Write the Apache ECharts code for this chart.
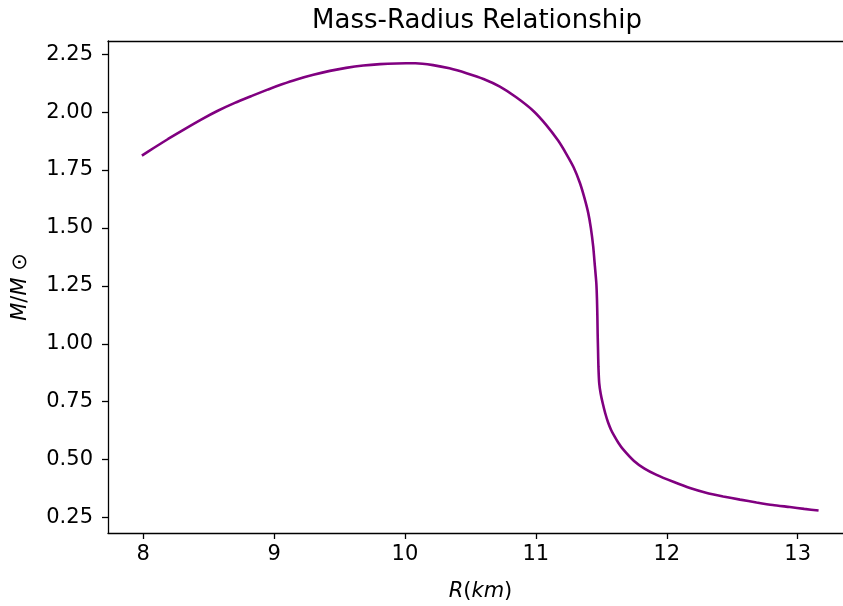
<!DOCTYPE html>
<html>
<head>
<meta charset="utf-8">
<script src="https://cdn.jsdelivr.net/npm/echarts@6/dist/echarts.min.js"></script>
<style>
html,body{margin:0;padding:0;background:#fff;overflow:hidden;width:843px;height:606px;}
#chart{width:870px;height:606px;}
</style>
</head>
<body>
<div id="chart"></div>
<script>
// Radius (km) and mass (solar masses)
const radiusKm = [7.99, 8.08, 8.19, 8.32, 8.446, 8.57, 8.70, 8.83, 8.955, 9.06, 9.172, 9.30, 9.426, 9.55, 9.681, 9.81, 9.936, 10.08, 10.215, 10.34, 10.47, 10.60, 10.725, 10.85, 10.979, 11.08, 11.17, 11.23, 11.29, 11.336, 11.37, 11.40, 11.42, 11.438, 11.451, 11.462, 11.467, 11.47, 11.472, 11.475, 11.478, 11.484, 11.495, 11.51, 11.53, 11.552, 11.575, 11.60, 11.63, 11.667, 11.75, 11.83, 11.922, 12.05, 12.177, 12.30, 12.431, 12.56, 12.686, 12.81, 12.94, 13.05, 13.16];
const massSun  = [1.812, 1.845, 1.884, 1.928, 1.969, 2.006, 2.040, 2.070, 2.098, 2.120, 2.141, 2.161, 2.178, 2.191, 2.201, 2.207, 2.210, 2.211, 2.203, 2.189, 2.168, 2.143, 2.110, 2.064, 2.006, 1.944, 1.877, 1.822, 1.760, 1.695, 1.632, 1.565, 1.500, 1.420, 1.335, 1.261, 1.190, 1.117, 1.045, 0.973, 0.900, 0.830, 0.785, 0.745, 0.700, 0.660, 0.628, 0.601, 0.573, 0.544, 0.494, 0.461, 0.434, 0.404, 0.377, 0.357, 0.341, 0.327, 0.315, 0.304, 0.295, 0.287, 0.280];
const xTicks = [8, 9, 10, 11, 12, 13];
const yTicks = [0.25, 0.50, 0.75, 1.00, 1.25, 1.50, 1.75, 2.00, 2.25];
const titleText = 'Mass-Radius Relationship';

const FONT = 'DejaVu Sans';
const chart = echarts.init(document.getElementById('chart'), null, {renderer: 'canvas'});
const seriesData = radiusKm.map((r, i) => [r, massSun[i]]);

chart.setOption({
  animation: false,
  backgroundColor: '#ffffff',
  title: {
    text: titleText,
    left: 472, top: 3, textAlign: 'center',
    textStyle: {fontFamily: FONT, fontSize: 26, fontWeight: 'normal', color: '#000'}
  },
  grid: {
    left: 108, top: 41, width: 745, height: 492,
    outerBoundsMode: 'none', containLabel: false, show: false
  },
  xAxis: [{
    type: 'value', min: 7.731, max: 13.423, position: 'bottom',
    axisLine: {show: true, onZero: false, lineStyle: {color: '#000', width: 1.3}},
    axisTick: {show: true, length: 6, lineStyle: {color: '#000', width: 1.3}, customValues: xTicks},
    axisLabel: {
      show: true, margin: 11, fontFamily: FONT, fontSize: 21, color: '#000',
      customValues: xTicks,
      formatter: v => String(v)
    },
    splitLine: {show: false},
    name: '{i|R}{n|(}{i|km}{n|)}',
    nameLocation: 'middle', nameGap: 48,
    nameTextStyle: {
      rich: {
        i: {fontFamily: FONT, fontSize: 21, fontStyle: 'italic', color: '#000'},
        n: {fontFamily: FONT, fontSize: 21, color: '#000'}
      }
    }
  }, {
    type: 'value', min: 7.731, max: 13.423, position: 'top',
    axisLine: {show: true, onZero: false, lineStyle: {color: '#000', width: 1.3}},
    axisTick: {show: false}, axisLabel: {show: false}, splitLine: {show: false}
  }],
  yAxis: {
    type: 'value', min: 0.183, max: 2.307,
    axisLine: {show: true, onZero: false, lineStyle: {color: '#000', width: 1.3}},
    axisTick: {show: true, length: 6, lineStyle: {color: '#000', width: 1.3}, customValues: yTicks},
    axisLabel: {
      show: true, margin: 15, fontFamily: FONT, fontSize: 21, color: '#000',
      customValues: yTicks,
      formatter: v => v.toFixed(2)
    },
    splitLine: {show: false},
    name: '{i|M}{n|/}{i|M}{n| ⊙}',
    nameLocation: 'middle', nameGap: 77, nameRotate: 90,
    nameTextStyle: {
      rich: {
        i: {fontFamily: FONT, fontSize: 21, fontStyle: 'italic', color: '#000'},
        n: {fontFamily: FONT, fontSize: 21, color: '#000'}
      }
    }
  },
  series: [{
    type: 'line',
    xAxisIndex: 0,
    data: seriesData,
    showSymbol: false,
    smooth: 0.2,
    lineStyle: {color: '#800080', width: 2.6},
    itemStyle: {color: '#800080'},
    clip: true
  }]
});
</script>
</body>
</html>
